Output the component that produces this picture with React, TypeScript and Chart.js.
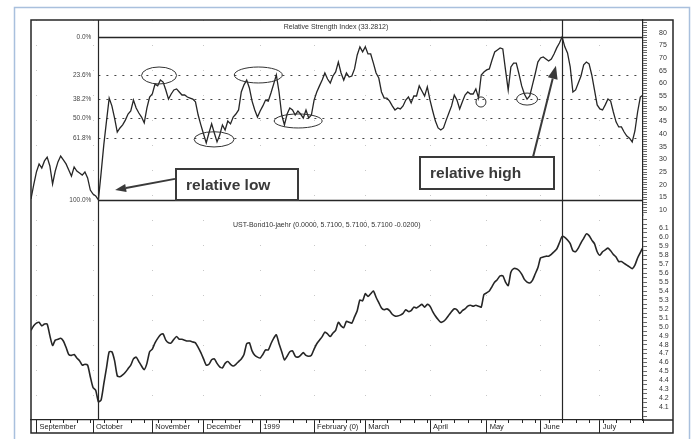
import React, { useEffect, useRef } from 'react';
import { Chart, registerables } from 'chart.js';

Chart.register(...registerables);

// Daily closes, indexed by trading day (day 0 = last days of August 1998)
const rsiValues = [
  14.4, 19.9, 25.0, 28.2, 26.6, 29.4, 30.9, 27.4, 20.3, 25.4,
  29.0, 31.3, 29.8, 28.2, 25.8, 23.4, 27.0, 25.4, 24.6, 23.8,
  25.0, 22.7, 17.9, 16.3, 15.6, 14.0, 24.6, 35.7, 45.1, 54.2,
  51.1, 46.3, 40.8, 42.4, 43.6, 45.5, 47.9, 49.1, 53.4, 50.3,
  48.3, 46.7, 44.4, 50.3, 54.6, 55.8, 59.7, 59.0, 61.3, 60.5,
  57.4, 53.8, 55.8, 57.4, 57.8, 56.6, 55.4, 55.4, 54.6, 54.2,
  53.8, 52.7, 47.5, 43.6, 40.0, 36.5, 40.4, 44.0, 40.4, 36.9,
  39.6, 43.6, 41.6, 45.1, 44.0, 46.7, 47.9, 49.5, 56.6, 59.4,
  61.3, 58.2, 53.0, 49.5, 46.7, 49.1, 51.1, 53.4, 53.0, 56.2,
  59.7, 63.3, 56.6, 47.5, 43.6, 47.9, 50.3, 49.5, 47.5, 49.1,
  47.9, 46.3, 49.5, 46.3, 47.5, 53.4, 56.6, 59.0, 61.3, 64.1,
  61.7, 60.1, 62.9, 64.5, 68.4, 64.1, 61.3, 64.1, 62.5, 62.9,
  65.7, 71.2, 74.4, 72.4, 74.4, 71.6, 71.6, 68.0, 64.1, 62.1,
  56.6, 54.2, 54.2, 53.0, 51.1, 49.5, 50.3, 49.9, 51.1, 53.4,
  54.6, 52.3, 55.0, 55.0, 59.0, 57.0, 55.0, 58.6, 53.4, 49.1,
  45.1, 42.4, 41.6, 42.4, 45.5, 48.3, 51.1, 55.4, 53.4, 49.9,
  52.7, 55.4, 56.6, 55.8, 55.8, 57.8, 54.2, 63.3, 64.5, 65.3,
  65.7, 69.2, 72.4, 73.2, 74.0, 73.6, 65.3, 57.4, 66.5, 68.0,
  68.0, 63.7, 59.0, 55.8, 53.8, 55.0, 59.4, 63.7, 68.4, 70.0,
  70.4, 69.6, 68.8, 69.6, 71.6, 74.0, 75.9, 78.3, 74.4, 72.0,
  66.5, 56.6, 57.4, 60.1, 62.9, 67.3, 68.4, 67.7, 63.3, 57.4,
  51.5, 49.9, 49.5, 51.5, 53.8, 53.0, 48.7, 44.8, 42.8, 42.8,
  40.8, 39.2, 38.4, 36.9, 41.2, 48.7, 54.6, 55.4,
];

const bondValues = [
  4.96, 5.01, 5.04, 5.05, 5.01, 5.03, 5.03, 4.90, 4.79, 4.85,
  4.86, 4.87, 4.84, 4.77, 4.69, 4.68, 4.69, 4.65, 4.62, 4.57,
  4.58, 4.57, 4.44, 4.32, 4.29, 4.16, 4.18, 4.36, 4.54, 4.72,
  4.72, 4.62, 4.45, 4.44, 4.46, 4.49, 4.53, 4.57, 4.64, 4.66,
  4.61, 4.56, 4.52, 4.59, 4.72, 4.75, 4.82, 4.87, 4.91, 4.92,
  4.85, 4.82, 4.82, 4.86, 4.89, 4.86, 4.86, 4.85, 4.84, 4.84,
  4.83, 4.82, 4.77, 4.71, 4.64, 4.57, 4.58, 4.63, 4.64, 4.59,
  4.55, 4.54, 4.59, 4.61, 4.58, 4.56, 4.58, 4.61, 4.64, 4.69,
  4.81, 4.82, 4.73, 4.68, 4.66, 4.65, 4.69, 4.74, 4.74, 4.81,
  4.87, 4.91, 4.81, 4.72, 4.63, 4.67, 4.72, 4.73, 4.67, 4.66,
  4.68, 4.71, 4.68, 4.67, 4.68, 4.75, 4.81, 4.85, 4.89, 4.94,
  4.92, 4.89, 4.93, 4.96, 5.05, 5.01, 4.99, 5.06, 5.05, 5.04,
  5.11, 5.18, 5.30, 5.29, 5.37, 5.34, 5.37, 5.40, 5.33, 5.27,
  5.21, 5.19, 5.20, 5.18, 5.14, 5.12, 5.12, 5.13, 5.15, 5.19,
  5.17, 5.18, 5.22, 5.21, 5.23, 5.25, 5.22, 5.25, 5.23, 5.17,
  5.12, 5.08, 5.05, 5.06, 5.09, 5.13, 5.17, 5.20, 5.19, 5.15,
  5.18, 5.20, 5.23, 5.24, 5.23, 5.24, 5.23, 5.22, 5.36, 5.38,
  5.40, 5.45, 5.50, 5.53, 5.57, 5.57, 5.50, 5.46, 5.61, 5.65,
  5.65, 5.63, 5.59, 5.53, 5.50, 5.49, 5.52, 5.59, 5.66, 5.77,
  5.78, 5.79, 5.79, 5.81, 5.84, 5.87, 5.94, 6.01, 6.00, 5.97,
  5.93, 5.85, 5.84, 5.88, 5.94, 5.99, 6.04, 6.02, 5.97, 5.93,
  5.84, 5.80, 5.84, 5.86, 5.88, 5.85, 5.81, 5.78, 5.73, 5.73,
  5.71, 5.69, 5.67, 5.65, 5.69, 5.77, 5.83, 5.89,
];

const tradingDays = rsiValues.map((_, i) => i);

const monthStartDays = [2, 23, 45, 64, 85, 105, 124, 148, 169, 189, 211];
const monthLabels = ['September', 'October', 'November', 'December', '1999', 'February (0)', 'March', 'April', 'May', 'June', 'July'];

const rsiTickLabels = [10, 15, 20, 25, 30, 35, 40, 45, 50, 55, 60, 65, 70, 75, 80];
const bondTickLabels = ['4.1', '4.2', '4.3', '4.4', '4.5', '4.6', '4.7', '4.8', '4.9', '5.0', '5.1', '5.2', '5.3', '5.4', '5.5', '5.6', '5.7', '5.8', '5.9', '6.0', '6.1'];

const fibLevels = [0, 23.6, 38.2, 50.0, 61.8, 100];
const fibLabels = ['0.0%', '23.6%', '38.2%', '50.0%', '61.8%', '100.0%'];

const rsiTitle = 'Relative Strength Index (33.2812)';
const bondTitle = 'UST-Bond10-jaehr (0.0000, 5.7100, 5.7100, 5.7100 -0.0200)';
const lowNote = 'relative low';
const highNote = 'relative high';

const FONT = '"Liberation Sans", Arial, Helvetica, sans-serif';
const INK = '#262626';

function drawArrow(ctx: CanvasRenderingContext2D, x0: number, y0: number, x1: number, y1: number, headLen: number, headW: number) {
  const ang = Math.atan2(y1 - y0, x1 - x0);
  const bx = x1 - headLen * Math.cos(ang);
  const by = y1 - headLen * Math.sin(ang);
  ctx.beginPath();
  ctx.moveTo(x0, y0);
  ctx.lineTo(bx, by);
  ctx.stroke();
  ctx.beginPath();
  ctx.moveTo(x1, y1);
  ctx.lineTo(bx + (headW / 2) * Math.sin(ang), by - (headW / 2) * Math.cos(ang));
  ctx.lineTo(bx - (headW / 2) * Math.sin(ang), by + (headW / 2) * Math.cos(ang));
  ctx.closePath();
  ctx.fill();
}

const overlayPlugin = {
  id: 'overlay',
  beforeDraw(chart: any) {
    const { ctx, width, height } = chart;
    ctx.save();
    ctx.fillStyle = '#ffffff';
    ctx.fillRect(0, 0, width, height);
    ctx.strokeStyle = '#a9c0dd';
    ctx.lineWidth = 1.5;
    ctx.strokeRect(14.5, 7.5, 675, height + 20);
    ctx.restore();
  },
  beforeDatasetsDraw(chart: any) {
    const { ctx, chartArea, scales } = chart;
    const xs = scales.x;
    const ys = scales.rsi;
    const yb = scales.bond;
    const highV = Math.max(...rsiValues);
    const lowV = Math.min(...rsiValues);
    const lowIdx = rsiValues.indexOf(lowV);
    const highIdx = rsiValues.indexOf(highV);
    const xLow = xs.getPixelForValue(tradingDays[lowIdx]);
    const xHigh = xs.getPixelForValue(tradingDays[highIdx]);
    ctx.save();
    fibLevels.forEach((p, i) => {
      const solid = p === 0 || p === 100;
      const y = Math.round(ys.getPixelForValue(highV - (p / 100) * (highV - lowV))) + 0.5;
      ctx.beginPath();
      ctx.setLineDash(solid ? [] : [2, 6]);
      ctx.lineWidth = solid ? 1.3 : 1;
      ctx.strokeStyle = solid ? INK : '#444';
      ctx.moveTo(xLow, y);
      ctx.lineTo(chartArea.right, y);
      ctx.stroke();
      ctx.setLineDash([]);
      ctx.fillStyle = '#444';
      ctx.font = `6.5px ${FONT}`;
      ctx.textAlign = 'right';
      ctx.textBaseline = 'middle';
      ctx.fillText(fibLabels[i], xLow - 7, y);
    });
    ctx.strokeStyle = INK;
    ctx.lineWidth = 1.2;
    [xLow, xHigh].forEach((x) => {
      const px = Math.round(x) + 0.5;
      ctx.beginPath();
      ctx.moveTo(px, chartArea.top);
      ctx.lineTo(px, chartArea.bottom);
      ctx.stroke();
    });
    ctx.fillStyle = '#333';
    ctx.font = `7px ${FONT}`;
    ctx.textBaseline = 'middle';
    ctx.textAlign = 'center';
    ctx.fillText(rsiTitle, chartArea.left + 305, chartArea.top + 7.5);
    ctx.textAlign = 'left';
    ctx.fillText(bondTitle, chartArea.left + 202, yb.top + 10);
    ctx.restore();
  },
  afterDraw(chart: any) {
    const { ctx, chartArea, scales } = chart;
    const xs = scales.x;
    const ys = scales.rsi;
    const px = (d: number) => xs.getPixelForValue(d);
    const py = (v: number) => ys.getPixelForValue(v);
    ctx.save();
    // circled zones (day, rsi, half-width in days, half-height in rsi)
    const circled = [
      [47.5, 63.1, 6.5, 3.35],
      [67.9, 37.9, 7.4, 3.0],
      [84.3, 63.3, 8.9, 3.15],
      [99.1, 45.15, 8.9, 2.76],
      [166.9, 52.65, 1.85, 2.0],
      [184.0, 53.8, 3.9, 2.37],
    ];
    ctx.strokeStyle = '#333';
    ctx.lineWidth = 1;
    circled.forEach(([d, v, rd, rv]) => {
      const cx = px(d);
      const cy = py(v);
      ctx.beginPath();
      ctx.ellipse(cx, cy, px(d + rd) - cx, cy - py(v + rv), 0, 0, Math.PI * 2);
      ctx.stroke();
    });
    // note boxes
    const boxes: [number, number, number, number, string][] = [
      [53.8, 26.2, 99.0, 14.0, lowNote],
      [144.3, 30.9, 194.0, 18.3, highNote],
    ];
    boxes.forEach(([d0, v0, d1, v1, text]) => {
      const x0 = Math.round(px(d0));
      const x1 = Math.round(px(d1));
      const y0 = Math.round(py(v0));
      const y1 = Math.round(py(v1));
      ctx.fillStyle = '#ffffff';
      ctx.fillRect(x0, y0, x1 - x0, y1 - y0);
      ctx.strokeStyle = '#3a3a3a';
      ctx.lineWidth = 2;
      ctx.strokeRect(x0, y0, x1 - x0, y1 - y0);
      ctx.fillStyle = '#3a3a3a';
      ctx.font = `bold 15.5px ${FONT}`;
      ctx.textAlign = 'left';
      ctx.textBaseline = 'middle';
      ctx.fillText(text, x0 + 10, (y0 + y1) / 2 + 1);
    });
    // arrows
    ctx.strokeStyle = '#3a3a3a';
    ctx.fillStyle = '#3a3a3a';
    ctx.lineWidth = 2;
    drawArrow(ctx, px(53.4), py(22.3), px(31.2), py(17.9), 11, 8);
    drawArrow(ctx, px(186.2), py(30.9), px(194.7), py(66.9), 13, 10);
    // outer frame + axis strip
    const right = scales.rsi.right;
    const bottom = xs.bottom;
    ctx.strokeStyle = INK;
    ctx.lineWidth = 1.5;
    ctx.strokeRect(chartArea.left, chartArea.top, right - chartArea.left, bottom - chartArea.top);
    ctx.beginPath();
    ctx.moveTo(chartArea.right, chartArea.bottom);
    ctx.lineTo(right, chartArea.bottom);
    ctx.stroke();
    ctx.lineWidth = 1;
    for (let d = 2; d <= 227; d += 5) {
      const x = Math.round(px(d)) + 0.5;
      ctx.beginPath();
      ctx.moveTo(x, chartArea.bottom);
      ctx.lineTo(x, chartArea.bottom + 3);
      ctx.stroke();
    }
    ctx.restore();
  },
};

export default function App() {
  const ref = useRef<HTMLCanvasElement>(null);
  useEffect(() => {
    const canvas = ref.current;
    if (!canvas) return;
    const chart = new Chart(canvas, {
      type: 'line',
      data: {
        datasets: [
          {
            label: 'Relative Strength Index',
            data: tradingDays.map((d, i) => ({ x: d, y: rsiValues[i] })),
            yAxisID: 'rsi',
            borderColor: INK,
            borderWidth: 1.3,
            pointRadius: 0,
            tension: 0,
          },
          {
            label: 'UST-Bond10-jaehr',
            data: tradingDays.map((d, i) => ({ x: d, y: bondValues[i] })),
            yAxisID: 'bond',
            borderColor: INK,
            borderWidth: 1.6,
            pointRadius: 0,
            tension: 0.2,
          },
        ],
      },
      options: {
        responsive: false,
        animation: false,
        devicePixelRatio: 1,
        events: [],
        layout: { padding: { left: 31, top: 20, right: 22, bottom: 6 } },
        plugins: { legend: { display: false }, tooltip: { enabled: false } },
        scales: {
          rsi: {
            type: 'linear',
            position: 'right',
            stack: 'panels',
            stackWeight: 195,
            min: 8.05,
            max: 85.0,
            afterBuildTicks: (s: any) => {
              const t = [];
              for (let v = 9; v <= 84; v++) t.push({ value: v });
              s.ticks = t;
            },
            afterFit: (s: any) => { s.width = 30; },
            ticks: {
              autoSkip: false,
              padding: 12,
              color: '#333',
              font: { size: 7, family: FONT },
              callback: (v: any) => (rsiTickLabels.includes(Number(v)) ? String(v) : ''),
            },
            grid: { drawOnChartArea: false, tickLength: 4, tickColor: '#444', tickWidth: 0.8 },
            border: { display: true, color: INK, width: 1.2 },
          },
          bond: {
            type: 'linear',
            position: 'right',
            stack: 'panels',
            stackWeight: 205,
            min: 3.956,
            max: 6.251,
            afterBuildTicks: (s: any) => {
              const t = [];
              for (let k = 80; k <= 124; k++) t.push({ value: k / 20 });
              s.ticks = t;
            },
            afterFit: (s: any) => { s.width = 30; },
            ticks: {
              autoSkip: false,
              padding: 12,
              color: '#333',
              font: { size: 7, family: FONT },
              callback: (v: any) => {
                const n = Number(v);
                const s = n.toFixed(1);
                return Math.abs(n * 10 - Math.round(n * 10)) < 1e-6 && bondTickLabels.includes(s) ? s : '';
              },
            },
            grid: { drawOnChartArea: false, tickLength: 4, tickColor: '#444', tickWidth: 0.8 },
            border: { display: true, color: INK, width: 1.2 },
          },
          x: {
            type: 'linear',
            min: 0,
            max: 227,
            afterBuildTicks: (s: any) => { s.ticks = monthStartDays.map((v) => ({ value: v })); },
            afterFit: (s: any) => { s.height = 13; },
            ticks: {
              autoSkip: false,
              align: 'start',
              labelOffset: 3,
              padding: -11,
              maxRotation: 0,
              minRotation: 0,
              color: '#222',
              font: { size: 7.5, family: FONT },
              callback: (v: any) => monthLabels[monthStartDays.indexOf(Number(v))] ?? '',
            },
            grid: { drawOnChartArea: true, color: 'rgba(0,0,0,0.22)', tickColor: INK, tickLength: 13, lineWidth: 1 },
            border: { display: true, color: INK, width: 1.2, dash: [1, 24] },
          },
        },
      },
      plugins: [overlayPlugin],
    } as any);
    return () => chart.destroy();
  }, []);
  return (
    <div style={{ position: 'fixed', left: 0, top: 0, width: 695, height: 439, background: '#fff' }}>
      <canvas ref={ref} width={695} height={439} style={{ display: 'block', width: 695, height: 439 }} />
    </div>
  );
}
